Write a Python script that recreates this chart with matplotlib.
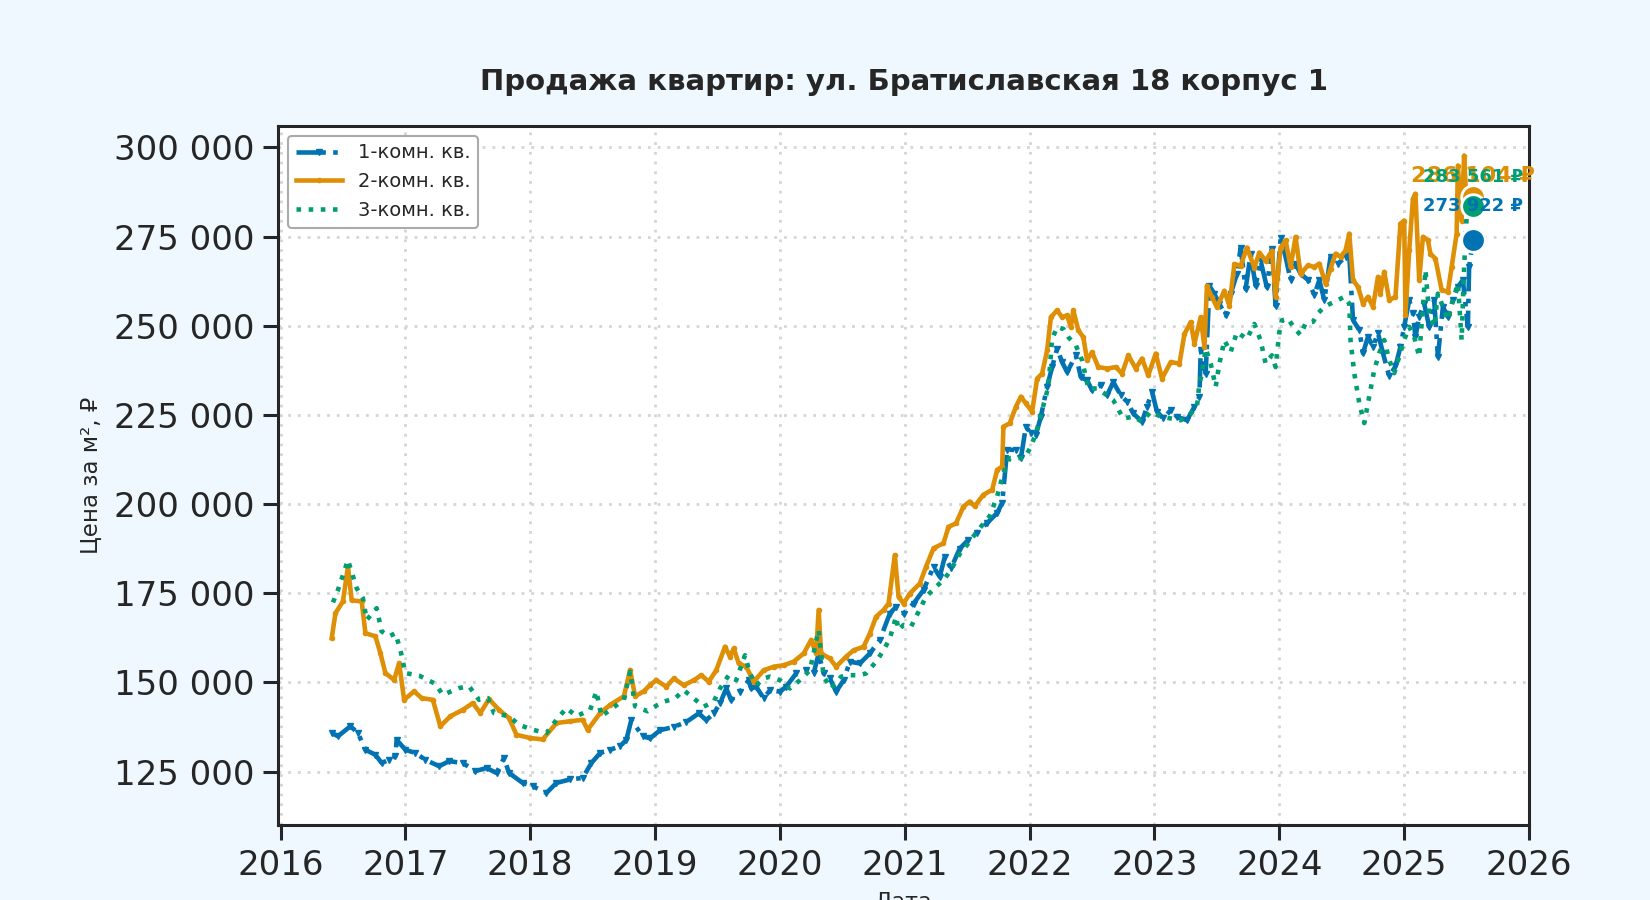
import matplotlib
matplotlib.use("Agg")
import matplotlib.pyplot as plt
from matplotlib.ticker import FuncFormatter, FixedLocator

plt.rcParams['font.family'] = ['DejaVu Sans']

title = "Продажа квартир: ул. Братиславская 18 корпус 1"
ylabel = "Цена за м², ₽"
xlabel = "Дата"
labels = ["1-комн. кв.", "2-комн. кв.", "3-комн. кв."]
colors = ["#0173B2", "#DE8F05", "#029E73"]

# ---- 1-room (decimal years, price per m2) ----
one_t = [2016.41, 2016.46, 2016.56, 2016.62, 2016.68, 2016.76, 2016.81, 2016.87, 2016.92, 2016.93,
         2017.00, 2017.08, 2017.16, 2017.27, 2017.35, 2017.46, 2017.56, 2017.65, 2017.73, 2017.79,
         2017.83, 2017.94, 2018.02, 2018.13, 2018.21, 2018.32, 2018.42, 2018.49, 2018.56, 2018.64,
         2018.72, 2018.77, 2018.81, 2018.90, 2018.96, 2019.04, 2019.15, 2019.25, 2019.35, 2019.41,
         2019.47, 2019.52, 2019.57, 2019.61, 2019.68, 2019.75, 2019.77, 2019.81, 2019.87, 2019.92,
         2020.00, 2020.05, 2020.13, 2020.21, 2020.27, 2020.31, 2020.35, 2020.40, 2020.45, 2020.51,
         2020.56, 2020.64, 2020.72, 2020.80, 2020.88, 2020.93, 2020.99, 2021.07, 2021.15, 2021.23,
         2021.28, 2021.32, 2021.37, 2021.44, 2021.51, 2021.58, 2021.66, 2021.74, 2021.78, 2021.82,
         2021.89, 2021.93, 2021.97, 2022.01, 2022.05, 2022.09, 2022.14, 2022.18, 2022.22, 2022.26,
         2022.30, 2022.37, 2022.41, 2022.46, 2022.50, 2022.57, 2022.62, 2022.67, 2022.73, 2022.78,
         2022.83, 2022.90, 2022.94, 2022.98, 2023.02, 2023.07, 2023.13, 2023.18, 2023.26, 2023.32,
         2023.36, 2023.37, 2023.41, 2023.44, 2023.48, 2023.52, 2023.57, 2023.61, 2023.66, 2023.69,
         2023.73, 2023.77, 2023.81, 2023.85, 2023.90, 2023.94, 2023.97, 2024.01, 2024.05, 2024.09,
         2024.13, 2024.17, 2024.23, 2024.28, 2024.32, 2024.36, 2024.41, 2024.47, 2024.53, 2024.56,
         2024.59, 2024.64, 2024.67, 2024.71, 2024.75, 2024.79, 2024.83, 2024.88, 2024.93, 2024.97,
         2025.00, 2025.04, 2025.07, 2025.09, 2025.12, 2025.16, 2025.20, 2025.24, 2025.27, 2025.31,
         2025.35, 2025.39, 2025.43, 2025.47, 2025.51, 2025.52, 2025.55]
one_v = [135800, 134900, 137700, 135800, 131100, 129700, 127400, 128300, 129300, 133900,
         131100, 130200, 128300, 126500, 127900, 127400, 125100, 126000, 124600, 128800,
         124600, 121800, 120900, 119000, 121800, 122800, 123200, 127400, 130200, 131100,
         132100, 133900, 139500, 134900, 134300, 136600, 137500, 138900, 141300, 139400,
         141300, 144100, 148300, 145000, 147400, 150600, 148300, 148800, 145500, 147800,
         147400, 148800, 152500, 153400, 152500, 158100, 152500, 151100, 147400, 150600,
         155800, 155300, 158100, 161900, 169300, 171200, 169300, 172100, 175900, 182400,
         179600, 185200, 182000, 187500, 190000, 192000, 194700, 197500, 200300, 215200,
         215200, 212900, 221700, 219800, 219400, 224500, 232900, 238400, 243600, 239800,
         237000, 241700, 235600, 234700, 231900, 233300, 230500, 234200, 230500, 228700,
         225400, 223100, 227300, 231500, 225900, 224000, 226300, 224500, 223500, 227300,
         230100, 243100, 236600, 261200, 258900, 256100, 252900, 258900, 264500, 271900,
         260300, 270100, 261200, 268200, 260800, 271500, 255600, 274500, 269300, 262800,
         267400, 264600, 262800, 258600, 262800, 257200, 269300, 267400, 269300, 269800,
         251600, 248800, 242300, 246900, 244100, 247900, 242300, 235800, 238600, 244100,
         249700, 257200, 253500, 246900, 252500, 256200, 249700, 257200, 241300, 255300,
         252500, 257200, 260900, 262800, 249700, 266500, 273922]

# ---- 2-room ----
two_t = [2016.41, 2016.44, 2016.50, 2016.54, 2016.57, 2016.65, 2016.68, 2016.76, 2016.80, 2016.84,
         2016.91, 2016.95, 2016.99, 2017.07, 2017.13, 2017.22, 2017.28, 2017.36, 2017.46, 2017.54,
         2017.60, 2017.67, 2017.75, 2017.83, 2017.89, 2018.00, 2018.10, 2018.21, 2018.32, 2018.42,
         2018.46, 2018.56, 2018.64, 2018.75, 2018.80, 2018.84, 2018.91, 2018.96, 2019.01, 2019.09,
         2019.15, 2019.23, 2019.31, 2019.37, 2019.43, 2019.49, 2019.56, 2019.60, 2019.63, 2019.67,
         2019.73, 2019.79, 2019.87, 2019.95, 2020.03, 2020.11, 2020.19, 2020.25, 2020.29, 2020.31,
         2020.33, 2020.40, 2020.45, 2020.53, 2020.59, 2020.67, 2020.72, 2020.77, 2020.83, 2020.87,
         2020.92, 2020.95, 2020.99, 2021.04, 2021.12, 2021.17, 2021.23, 2021.31, 2021.35, 2021.41,
         2021.47, 2021.52, 2021.56, 2021.63, 2021.70, 2021.74, 2021.78, 2021.79, 2021.84, 2021.89,
         2021.93, 2021.97, 2022.02, 2022.06, 2022.10, 2022.14, 2022.17, 2022.22, 2022.26, 2022.30,
         2022.33, 2022.35, 2022.39, 2022.43, 2022.46, 2022.50, 2022.55, 2022.62, 2022.69, 2022.74,
         2022.79, 2022.85, 2022.90, 2022.95, 2023.01, 2023.06, 2023.13, 2023.20, 2023.24, 2023.29,
         2023.32, 2023.37, 2023.40, 2023.42, 2023.46, 2023.50, 2023.56, 2023.60, 2023.64, 2023.69,
         2023.74, 2023.80, 2023.84, 2023.89, 2023.94, 2023.97, 2024.01, 2024.05, 2024.09, 2024.13,
         2024.17, 2024.23, 2024.28, 2024.32, 2024.37, 2024.41, 2024.45, 2024.49, 2024.53, 2024.56,
         2024.59, 2024.63, 2024.67, 2024.71, 2024.75, 2024.79, 2024.81, 2024.84, 2024.88, 2024.93,
         2024.97, 2025.00, 2025.01, 2025.04, 2025.07, 2025.09, 2025.12, 2025.15, 2025.19, 2025.21,
         2025.25, 2025.30, 2025.35, 2025.38, 2025.42, 2025.43, 2025.46, 2025.48, 2025.50, 2025.55]
two_v = [162400, 169400, 172700, 182500, 173000, 172700, 163800, 162900, 158200, 152600,
         150700, 155400, 145100, 147500, 145600, 145100, 137700, 140500, 142300, 144200,
         141400, 145300, 142300, 140000, 135300, 134400, 134000, 138600, 139100, 139500,
         136700, 141400, 143700, 146100, 153500, 146100, 147500, 149300, 150600, 148800,
         151100, 149200, 150600, 152000, 150200, 153400, 160000, 157200, 159500, 155300,
         154400, 150200, 153400, 154400, 154800, 155800, 158100, 161900, 158100, 170300,
         158100, 156700, 154400, 157200, 159000, 160000, 163700, 168400, 170300, 172100,
         185700, 174000, 172100, 174900, 177700, 182400, 187600, 189000, 193600, 194600,
         199300, 200700, 199400, 202600, 204000, 209600, 210500, 221700, 222600, 227300,
         230100, 228200, 225900, 235200, 236600, 243100, 252400, 254300, 252400, 252900,
         249600, 254300, 248700, 246800, 240300, 242600, 238400, 238000, 238400, 236600,
         241700, 238000, 240800, 236100, 242200, 235200, 239800, 239400, 247700, 251000,
         245000, 252400, 244000, 261200, 258000, 255200, 259800, 255600, 267300, 266800,
         271900, 266300, 270500, 268200, 271000, 258000, 271900, 273900, 266500, 274900,
         264600, 266900, 266500, 267400, 261800, 266000, 270200, 269300, 271100, 275800,
         262800, 260900, 256200, 258100, 255300, 263700, 259000, 265100, 257200, 258100,
         278600, 279500, 253000, 271100, 285600, 287000, 262800, 274900, 273900, 270200,
         268800, 260000, 259500, 266500, 275800, 294900, 279500, 297700, 283200, 286104]

# ---- 3-room ----
three_t = [2016.42, 2016.46, 2016.54, 2016.61, 2016.66, 2016.69, 2016.77, 2016.81, 2016.87, 2016.92,
           2016.96, 2017.00, 2017.11, 2017.24, 2017.30, 2017.43, 2017.51, 2017.59, 2017.66, 2017.71,
           2017.83, 2017.91, 2018.02, 2018.13, 2018.21, 2018.29, 2018.37, 2018.48, 2018.53, 2018.57,
           2018.64, 2018.75, 2018.80, 2018.84, 2018.94, 2019.02, 2019.07, 2019.16, 2019.23, 2019.31,
           2019.39, 2019.47, 2019.52, 2019.59, 2019.65, 2019.72, 2019.76, 2019.81, 2019.87, 2019.92,
           2020.00, 2020.08, 2020.16, 2020.24, 2020.31, 2020.35, 2020.41, 2020.49, 2020.56, 2020.63,
           2020.69, 2020.77, 2020.83, 2020.88, 2020.93, 2020.95, 2020.99, 2021.05, 2021.09, 2021.17,
           2021.25, 2021.31, 2021.36, 2021.44, 2021.51, 2021.58, 2021.68, 2021.74, 2021.79, 2021.84,
           2021.96, 2022.01, 2022.05, 2022.10, 2022.15, 2022.18, 2022.22, 2022.27, 2022.31, 2022.37,
           2022.42, 2022.47, 2022.54, 2022.62, 2022.67, 2022.75, 2022.83, 2022.90, 2022.97, 2023.05,
           2023.13, 2023.21, 2023.29, 2023.34, 2023.36, 2023.38, 2023.41, 2023.45, 2023.49, 2023.52,
           2023.56, 2023.61, 2023.66, 2023.74, 2023.80, 2023.85, 2023.89, 2023.94, 2023.97, 2024.00,
           2024.02, 2024.07, 2024.12, 2024.17, 2024.21, 2024.27, 2024.31, 2024.36, 2024.41, 2024.47,
           2024.52, 2024.56, 2024.57, 2024.60, 2024.64, 2024.68, 2024.72, 2024.76, 2024.80, 2024.84,
           2024.88, 2024.92, 2024.96, 2025.00, 2025.04, 2025.08, 2025.12, 2025.15, 2025.17, 2025.20,
           2025.24, 2025.27, 2025.31, 2025.35, 2025.39, 2025.43, 2025.46, 2025.48, 2025.50, 2025.55]
three_v = [172400, 175900, 184300, 176400, 173600, 167500, 170800, 164300, 162900, 163800,
           159100, 152600, 151900, 149600, 146500, 148400, 148900, 145100, 145600, 141400,
           140500, 138100, 136700, 135800, 139500, 142800, 140500, 142300, 147500, 140500,
           142300, 145100, 153000, 143300, 141900, 143700, 144600, 145500, 147800, 145500,
           143200, 144600, 148300, 152000, 150600, 157600, 152500, 149200, 151100, 151600,
           150600, 148300, 150600, 153400, 164700, 151600, 148300, 151600, 152000, 152000,
           152500, 155800, 159000, 162300, 168400, 164700, 166100, 165600, 168400, 174000,
           176800, 178700, 181000, 186000, 189000, 192400, 196600, 202200, 208700, 212900,
           212900, 216100, 219800, 226300, 232900, 246300, 249600, 249100, 246800, 244500,
           240300, 232400, 232400, 230500, 229100, 224000, 224500, 223100, 225900, 224500,
           224000, 223500, 225400, 227300, 233800, 236600, 243600, 239400, 232900, 239400,
           245900, 242600, 248200, 246300, 250500, 245900, 239400, 241700, 238400, 248200,
           251500, 252000, 249300, 247400, 250700, 251100, 253500, 255300, 256200, 257200,
           258100, 256200, 246000, 236700, 228300, 222700, 230200, 237600, 242300, 246000,
           240400, 236700, 241300, 246000, 249700, 246900, 241300, 255300, 265600, 253500,
           249700, 259000, 255300, 251600, 257200, 261800, 246000, 266500, 280400, 283561]

series_t = [one_t, two_t, three_t]
series_v = [one_v, two_v, three_v]
styles = [dict(ls='-.', marker='v', ms=5), dict(ls='-', marker='.', ms=6), dict(ls=':', marker=None, ms=0)]
xticks = list(range(2016, 2027))
yticks = [125000, 150000, 175000, 200000, 225000, 250000, 275000, 300000]

dark = '#262626'
fig = plt.figure(figsize=(16.5, 9), dpi=100, facecolor='#F0F8FF')
ax = fig.add_axes([0.1685, 0.0833, 0.9267 - 0.1685, 0.86 - 0.0833])
ax.set_facecolor('white')

for t, v, lab, c, st in zip(series_t, series_v, labels, colors, styles):
    ax.plot(t, v, color=c, lw=3.3, label=lab, **st)

# end markers and labels
ann_sizes = [13, 16, 13]
ann_offsets = [25, 15, 21]
for t, v, c in zip(series_t, series_v, colors):
    ax.plot([t[-1]], [v[-1]], 'o', color=c, ms=17, mec='white', mew=2, zorder=5)
for i in [0, 1, 2]:
    t, v = series_t[i], series_v[i]
    ax.annotate(f"{v[-1]:,}".replace(',', ' ') + " ₽", xy=(t[-1], v[-1]),
                xytext=(0, ann_offsets[i]), textcoords='offset points',
                ha='center', va='center', fontsize=ann_sizes[i], fontweight='bold',
                color=colors[i], annotation_clip=False, zorder=6)

ax.set_xlim(2015.98, 2026.0)
ax.set_ylim(110000, 306000)
ax.xaxis.set_major_locator(FixedLocator(xticks))
ax.yaxis.set_major_locator(FixedLocator(yticks))
ax.xaxis.set_major_formatter(FuncFormatter(lambda x, p: f"{int(round(x))}"))
ax.yaxis.set_major_formatter(FuncFormatter(lambda y, p: f"{int(y):,}".replace(',', ' ')))

ax.grid(True, color='#d5d5d5', ls=(0, (1, 2.5)), lw=2.0)
ax.set_axisbelow(True)
for s in ax.spines.values():
    s.set_color(dark)
    s.set_linewidth(2.2)
ax.tick_params(axis='both', length=11, width=2.2, color=dark, labelcolor=dark, labelsize=24.5, pad=6)

ax.set_title(title, fontsize=21, fontweight='bold', color=dark, pad=26)
ax.set_ylabel(ylabel, fontsize=16.5, color=dark, labelpad=8)
ax.set_xlabel(xlabel, fontsize=16, color=dark, labelpad=7)

leg = ax.legend(loc='upper left', fontsize=14, frameon=True, fancybox=True,
                handlelength=2.4, numpoints=1)
leg.get_frame().set_edgecolor('#aaaaaa')
leg.get_frame().set_linewidth(1.5)
leg.get_frame().set_facecolor('white')
leg.get_frame().set_alpha(1.0)
for txt in leg.get_texts():
    txt.set_color(dark)

fig.savefig('out.png', dpi=100, facecolor=fig.get_facecolor())
